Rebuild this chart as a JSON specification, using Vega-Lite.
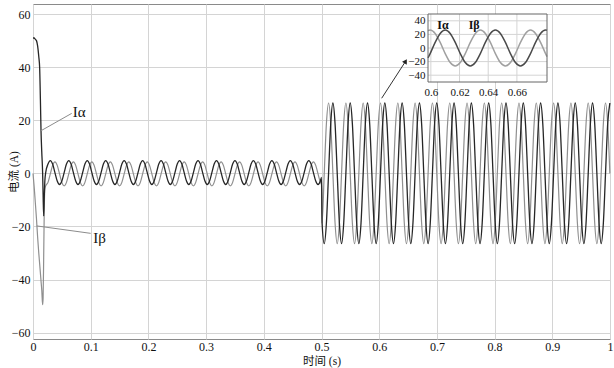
{
  "$schema": "https://vega.github.io/schema/vega-lite/v6.json",
  "width": 577,
  "height": 335,
  "autosize": "none",
  "padding": {"left": 33, "top": 4, "right": 4, "bottom": 29},
  "background": "white",
  "config": {
    "view": {"stroke": "#8a8a8a", "strokeWidth": 1},
    "axis": {
      "domain": false,
      "ticks": false,
      "labelFont": "Liberation Serif",
      "labelFontSize": 12,
      "labelColor": "#111111",
      "titleFont": "Liberation Serif, Noto Sans CJK SC",
      "titleFontSize": 11.5,
      "titleFontWeight": "normal",
      "titleColor": "#111111",
      "gridColor": "#d4d4d4",
      "gridWidth": 1,
      "labelOverlap": false
    }
  },
  "datasets": {
    "main": [
      {"t":0,"a":51,"b":0},{"t":0.002,"a":51,"b":-5},{"t":0.004,"a":50.5,"b":-11},{"t":0.006,"a":50,"b":-17},
      {"t":0.008,"a":48,"b":-24},{"t":0.01,"a":44,"b":-30},{"t":0.0115,"a":40,"b":-34},{"t":0.0128,"a":28,"b":-37.5},
      {"t":0.0139,"a":16,"b":-40.5},{"t":0.0152,"a":8,"b":-44},{"t":0.0167,"a":0,"b":-49.5},{"t":0.0175,"a":-8,"b":-47},
      {"t":0.0185,"a":-16,"b":-32},{"t":0.0195,"a":-9,"b":-14},{"t":0.0205,"a":-3,"b":-6},
      {"t":0.022,"a":0.3,"b":-4.7},{"t":0.026,"a":3.5,"b":-3.4},{"t":0.030,"a":4.8,"b":-0.2},{"t":0.034,"a":3.5,"b":3},{"t":0.038,"a":0.3,"b":4.3},{"t":0.042,"a":-2.9,"b":3},{"t":0.046,"a":-4.2,"b":-0.2},{"t":0.050,"a":-2.9,"b":-3.4},
      {"t":0.054,"a":0.3,"b":-4.7},{"t":0.058,"a":3.5,"b":-3.4},{"t":0.062,"a":4.8,"b":-0.2},{"t":0.066,"a":3.5,"b":3},{"t":0.070,"a":0.3,"b":4.3},{"t":0.074,"a":-2.9,"b":3},{"t":0.078,"a":-4.2,"b":-0.2},{"t":0.082,"a":-2.9,"b":-3.4},
      {"t":0.086,"a":0.3,"b":-4.7},{"t":0.090,"a":3.5,"b":-3.4},{"t":0.094,"a":4.8,"b":-0.2},{"t":0.098,"a":3.5,"b":3},{"t":0.102,"a":0.3,"b":4.3},{"t":0.106,"a":-2.9,"b":3},{"t":0.110,"a":-4.2,"b":-0.2},{"t":0.114,"a":-2.9,"b":-3.4},
      {"t":0.118,"a":0.3,"b":-4.7},{"t":0.122,"a":3.5,"b":-3.4},{"t":0.126,"a":4.8,"b":-0.2},{"t":0.130,"a":3.5,"b":3},{"t":0.134,"a":0.3,"b":4.3},{"t":0.138,"a":-2.9,"b":3},{"t":0.142,"a":-4.2,"b":-0.2},{"t":0.146,"a":-2.9,"b":-3.4},
      {"t":0.150,"a":0.3,"b":-4.7},{"t":0.154,"a":3.5,"b":-3.4},{"t":0.158,"a":4.8,"b":-0.2},{"t":0.162,"a":3.5,"b":3},{"t":0.166,"a":0.3,"b":4.3},{"t":0.170,"a":-2.9,"b":3},{"t":0.174,"a":-4.2,"b":-0.2},{"t":0.178,"a":-2.9,"b":-3.4},
      {"t":0.182,"a":0.3,"b":-4.7},{"t":0.186,"a":3.5,"b":-3.4},{"t":0.190,"a":4.8,"b":-0.2},{"t":0.194,"a":3.5,"b":3},{"t":0.198,"a":0.3,"b":4.3},{"t":0.202,"a":-2.9,"b":3},{"t":0.206,"a":-4.2,"b":-0.2},{"t":0.210,"a":-2.9,"b":-3.4},
      {"t":0.214,"a":0.3,"b":-4.7},{"t":0.218,"a":3.5,"b":-3.4},{"t":0.222,"a":4.8,"b":-0.2},{"t":0.226,"a":3.5,"b":3},{"t":0.230,"a":0.3,"b":4.3},{"t":0.234,"a":-2.9,"b":3},{"t":0.238,"a":-4.2,"b":-0.2},{"t":0.242,"a":-2.9,"b":-3.4},
      {"t":0.246,"a":0.3,"b":-4.7},{"t":0.250,"a":3.5,"b":-3.4},{"t":0.254,"a":4.8,"b":-0.2},{"t":0.258,"a":3.5,"b":3},{"t":0.262,"a":0.3,"b":4.3},{"t":0.266,"a":-2.9,"b":3},{"t":0.270,"a":-4.2,"b":-0.2},{"t":0.274,"a":-2.9,"b":-3.4},
      {"t":0.278,"a":0.3,"b":-4.7},{"t":0.282,"a":3.5,"b":-3.4},{"t":0.286,"a":4.8,"b":-0.2},{"t":0.290,"a":3.5,"b":3},{"t":0.294,"a":0.3,"b":4.3},{"t":0.298,"a":-2.9,"b":3},{"t":0.302,"a":-4.2,"b":-0.2},{"t":0.306,"a":-2.9,"b":-3.4},
      {"t":0.310,"a":0.3,"b":-4.7},{"t":0.314,"a":3.5,"b":-3.4},{"t":0.318,"a":4.8,"b":-0.2},{"t":0.322,"a":3.5,"b":3},{"t":0.326,"a":0.3,"b":4.3},{"t":0.330,"a":-2.9,"b":3},{"t":0.334,"a":-4.2,"b":-0.2},{"t":0.338,"a":-2.9,"b":-3.4},
      {"t":0.342,"a":0.3,"b":-4.7},{"t":0.346,"a":3.5,"b":-3.4},{"t":0.350,"a":4.8,"b":-0.2},{"t":0.354,"a":3.5,"b":3},{"t":0.358,"a":0.3,"b":4.3},{"t":0.362,"a":-2.9,"b":3},{"t":0.366,"a":-4.2,"b":-0.2},{"t":0.370,"a":-2.9,"b":-3.4},
      {"t":0.374,"a":0.3,"b":-4.7},{"t":0.378,"a":3.5,"b":-3.4},{"t":0.382,"a":4.8,"b":-0.2},{"t":0.386,"a":3.5,"b":3},{"t":0.390,"a":0.3,"b":4.3},{"t":0.394,"a":-2.9,"b":3},{"t":0.398,"a":-4.2,"b":-0.2},{"t":0.402,"a":-2.9,"b":-3.4},
      {"t":0.406,"a":0.3,"b":-4.7},{"t":0.410,"a":3.5,"b":-3.4},{"t":0.414,"a":4.8,"b":-0.2},{"t":0.418,"a":3.5,"b":3},{"t":0.422,"a":0.3,"b":4.3},{"t":0.426,"a":-2.9,"b":3},{"t":0.430,"a":-4.2,"b":-0.2},{"t":0.434,"a":-2.9,"b":-3.4},
      {"t":0.438,"a":0.3,"b":-4.7},{"t":0.442,"a":3.5,"b":-3.4},{"t":0.446,"a":4.8,"b":-0.2},{"t":0.450,"a":3.5,"b":3},{"t":0.454,"a":0.3,"b":4.3},{"t":0.458,"a":-2.9,"b":3},{"t":0.462,"a":-4.2,"b":-0.2},{"t":0.466,"a":-2.9,"b":-3.4},
      {"t":0.470,"a":0.3,"b":-4.7},{"t":0.474,"a":3.5,"b":-3.4},{"t":0.478,"a":4.8,"b":-0.2},{"t":0.482,"a":3.5,"b":3},{"t":0.486,"a":0.3,"b":4.3},{"t":0.490,"a":-2.9,"b":3},{"t":0.494,"a":-4.2,"b":-0.2},{"t":0.498,"a":-2.9,"b":-3.4},
      {"t":0.5,"a":-1.5,"b":-4.3},
      {"t":0.501,"a":-18.7,"b":-18.7},{"t":0.50475,"a":-26.5,"b":0},{"t":0.5085,"a":-18.7,"b":18.7},{"t":0.51225,"a":0,"b":26.5},{"t":0.516,"a":18.7,"b":18.7},{"t":0.51975,"a":26.5,"b":0},{"t":0.5235,"a":18.7,"b":-18.7},{"t":0.52725,"a":0,"b":-26.5},
      {"t":0.531,"a":-18.7,"b":-18.7},{"t":0.53475,"a":-26.5,"b":0},{"t":0.5385,"a":-18.7,"b":18.7},{"t":0.54225,"a":0,"b":26.5},{"t":0.546,"a":18.7,"b":18.7},{"t":0.54975,"a":26.5,"b":0},{"t":0.5535,"a":18.7,"b":-18.7},{"t":0.55725,"a":0,"b":-26.5},
      {"t":0.561,"a":-18.7,"b":-18.7},{"t":0.56475,"a":-26.5,"b":0},{"t":0.5685,"a":-18.7,"b":18.7},{"t":0.57225,"a":0,"b":26.5},{"t":0.576,"a":18.7,"b":18.7},{"t":0.57975,"a":26.5,"b":0},{"t":0.5835,"a":18.7,"b":-18.7},{"t":0.58725,"a":0,"b":-26.5},
      {"t":0.591,"a":-18.7,"b":-18.7},{"t":0.59475,"a":-26.5,"b":0},{"t":0.5985,"a":-18.7,"b":18.7},{"t":0.60225,"a":0,"b":26.5},{"t":0.606,"a":18.7,"b":18.7},{"t":0.60975,"a":26.5,"b":0},{"t":0.6135,"a":18.7,"b":-18.7},{"t":0.61725,"a":0,"b":-26.5},
      {"t":0.621,"a":-18.7,"b":-18.7},{"t":0.62475,"a":-26.5,"b":0},{"t":0.6285,"a":-18.7,"b":18.7},{"t":0.63225,"a":0,"b":26.5},{"t":0.636,"a":18.7,"b":18.7},{"t":0.63975,"a":26.5,"b":0},{"t":0.6435,"a":18.7,"b":-18.7},{"t":0.64725,"a":0,"b":-26.5},
      {"t":0.651,"a":-18.7,"b":-18.7},{"t":0.65475,"a":-26.5,"b":0},{"t":0.6585,"a":-18.7,"b":18.7},{"t":0.66225,"a":0,"b":26.5},{"t":0.666,"a":18.7,"b":18.7},{"t":0.66975,"a":26.5,"b":0},{"t":0.6735,"a":18.7,"b":-18.7},{"t":0.67725,"a":0,"b":-26.5},
      {"t":0.681,"a":-18.7,"b":-18.7},{"t":0.68475,"a":-26.5,"b":0},{"t":0.6885,"a":-18.7,"b":18.7},{"t":0.69225,"a":0,"b":26.5},{"t":0.696,"a":18.7,"b":18.7},{"t":0.69975,"a":26.5,"b":0},{"t":0.7035,"a":18.7,"b":-18.7},{"t":0.70725,"a":0,"b":-26.5},
      {"t":0.711,"a":-18.7,"b":-18.7},{"t":0.71475,"a":-26.5,"b":0},{"t":0.7185,"a":-18.7,"b":18.7},{"t":0.72225,"a":0,"b":26.5},{"t":0.726,"a":18.7,"b":18.7},{"t":0.72975,"a":26.5,"b":0},{"t":0.7335,"a":18.7,"b":-18.7},{"t":0.73725,"a":0,"b":-26.5},
      {"t":0.741,"a":-18.7,"b":-18.7},{"t":0.74475,"a":-26.5,"b":0},{"t":0.7485,"a":-18.7,"b":18.7},{"t":0.75225,"a":0,"b":26.5},{"t":0.756,"a":18.7,"b":18.7},{"t":0.75975,"a":26.5,"b":0},{"t":0.7635,"a":18.7,"b":-18.7},{"t":0.76725,"a":0,"b":-26.5},
      {"t":0.771,"a":-18.7,"b":-18.7},{"t":0.77475,"a":-26.5,"b":0},{"t":0.7785,"a":-18.7,"b":18.7},{"t":0.78225,"a":0,"b":26.5},{"t":0.786,"a":18.7,"b":18.7},{"t":0.78975,"a":26.5,"b":0},{"t":0.7935,"a":18.7,"b":-18.7},{"t":0.79725,"a":0,"b":-26.5},
      {"t":0.801,"a":-18.7,"b":-18.7},{"t":0.80475,"a":-26.5,"b":0},{"t":0.8085,"a":-18.7,"b":18.7},{"t":0.81225,"a":0,"b":26.5},{"t":0.816,"a":18.7,"b":18.7},{"t":0.81975,"a":26.5,"b":0},{"t":0.8235,"a":18.7,"b":-18.7},{"t":0.82725,"a":0,"b":-26.5},
      {"t":0.831,"a":-18.7,"b":-18.7},{"t":0.83475,"a":-26.5,"b":0},{"t":0.8385,"a":-18.7,"b":18.7},{"t":0.84225,"a":0,"b":26.5},{"t":0.846,"a":18.7,"b":18.7},{"t":0.84975,"a":26.5,"b":0},{"t":0.8535,"a":18.7,"b":-18.7},{"t":0.85725,"a":0,"b":-26.5},
      {"t":0.861,"a":-18.7,"b":-18.7},{"t":0.86475,"a":-26.5,"b":0},{"t":0.8685,"a":-18.7,"b":18.7},{"t":0.87225,"a":0,"b":26.5},{"t":0.876,"a":18.7,"b":18.7},{"t":0.87975,"a":26.5,"b":0},{"t":0.8835,"a":18.7,"b":-18.7},{"t":0.88725,"a":0,"b":-26.5},
      {"t":0.891,"a":-18.7,"b":-18.7},{"t":0.89475,"a":-26.5,"b":0},{"t":0.8985,"a":-18.7,"b":18.7},{"t":0.90225,"a":0,"b":26.5},{"t":0.906,"a":18.7,"b":18.7},{"t":0.90975,"a":26.5,"b":0},{"t":0.9135,"a":18.7,"b":-18.7},{"t":0.91725,"a":0,"b":-26.5},
      {"t":0.921,"a":-18.7,"b":-18.7},{"t":0.92475,"a":-26.5,"b":0},{"t":0.9285,"a":-18.7,"b":18.7},{"t":0.93225,"a":0,"b":26.5},{"t":0.936,"a":18.7,"b":18.7},{"t":0.93975,"a":26.5,"b":0},{"t":0.9435,"a":18.7,"b":-18.7},{"t":0.94725,"a":0,"b":-26.5},
      {"t":0.951,"a":-18.7,"b":-18.7},{"t":0.95475,"a":-26.5,"b":0},{"t":0.9585,"a":-18.7,"b":18.7},{"t":0.96225,"a":0,"b":26.5},{"t":0.966,"a":18.7,"b":18.7},{"t":0.96975,"a":26.5,"b":0},{"t":0.9735,"a":18.7,"b":-18.7},{"t":0.97725,"a":0,"b":-26.5},
      {"t":0.981,"a":-18.7,"b":-18.7},{"t":0.98475,"a":-26.5,"b":0},{"t":0.9885,"a":-18.7,"b":18.7},{"t":0.99225,"a":0,"b":26.5},{"t":0.996,"a":18.7,"b":18.7},{"t":0.99975,"a":26.5,"b":0}
    ],
    "inset": [
      {"t":0.598,"a":-14.6,"b":25.5},{"t":0.5995,"a":-8.19,"b":26.5},{"t":0.603,"a":8.19,"b":21.44},{"t":0.6065,"a":21.44,"b":8.19},
      {"t":0.61,"a":26.5,"b":-8.19},{"t":0.6135,"a":21.44,"b":-21.44},{"t":0.617,"a":8.19,"b":-26.5},{"t":0.6205,"a":-8.19,"b":-21.44},
      {"t":0.624,"a":-21.44,"b":-8.19},{"t":0.6275,"a":-26.5,"b":8.19},{"t":0.631,"a":-21.44,"b":21.44},{"t":0.6345,"a":-8.19,"b":26.5},
      {"t":0.638,"a":8.19,"b":21.44},{"t":0.6415,"a":21.44,"b":8.19},{"t":0.645,"a":26.5,"b":-8.19},{"t":0.6485,"a":21.44,"b":-21.44},
      {"t":0.652,"a":8.19,"b":-26.5},{"t":0.6555,"a":-8.19,"b":-21.44},{"t":0.659,"a":-21.44,"b":-8.19},{"t":0.6625,"a":-26.5,"b":8.19},
      {"t":0.666,"a":-21.44,"b":21.44},{"t":0.6695,"a":-8.19,"b":26.5},{"t":0.673,"a":8.19,"b":21.44},{"t":0.6765,"a":21.44,"b":8.19},
      {"t":0.68,"a":26.5,"b":-8.19},{"t":0.681,"a":26.1,"b":-12.6}
    ],
    "leaders": [
      {"t":0.0134,"v":16,"t2":0.0671,"v2":22.6},
      {"t":0.0064,"v":-19.8,"t2":0.1,"v2":-22.6}
    ],
    "labels": [
      {"t":0.069,"v":23,"s":"Iα"},
      {"t":0.1045,"v":-24.4,"s":"Iβ"}
    ],
    "arrow": [
      {"t":0.6043,"v":28.3,"t2":0.6451,"v2":42}
    ],
    "insetFrame": [
      {"x1":0.598,"x2":0.681,"y1":-50,"y2":50}
    ],
    "insetVGrid": [{"t":0.6},{"t":0.62},{"t":0.64},{"t":0.66}],
    "insetHGrid": [{"v":-40},{"v":-20},{"v":0},{"v":20},{"v":40}],
    "insetLabels": [
      {"t":0.6085,"v":33.8,"s":"Iα"},
      {"t":0.6302,"v":33.8,"s":"Iβ"}
    ]
  },
  "layer": [
    {
      "layer": [
        {
          "data": {"name": "main"},
          "mark": {"type": "line", "color": "#8f8f8f", "strokeWidth": 1.2, "interpolate": "monotone"},
          "encoding": {
            "x": {"field": "t", "type": "quantitative", "title": "时间 (s)",
              "scale": {"domain": [0, 1], "nice": false, "zero": false},
              "axis": {"values": [0, 0.1, 0.2, 0.3, 0.4, 0.5, 0.6, 0.7, 0.8, 0.9, 1], "format": "~g", "grid": true, "labelFlush": false, "labelPadding": 2, "titlePadding": 3}},
            "y": {"field": "b", "type": "quantitative", "title": "电流 (A)",
              "scale": {"domain": [-62.4, 63.8], "nice": false, "zero": false},
              "axis": {"values": [-60, -40, -20, 0, 20, 40, 60], "grid": true, "labelPadding": 3, "titlePadding": -8}}
          }
        },
        {
          "data": {"name": "main"},
          "mark": {"type": "line", "color": "#262626", "strokeWidth": 1.3, "interpolate": "monotone"},
          "encoding": {
            "x": {"field": "t", "type": "quantitative", "title": "时间 (s)"},
            "y": {"field": "a", "type": "quantitative", "title": "电流 (A)"}
          }
        },
        {
          "data": {"name": "leaders"},
          "mark": {"type": "rule", "color": "#8c8c8c", "strokeWidth": 1},
          "encoding": {
            "x": {"field": "t", "type": "quantitative", "title": "时间 (s)"},
            "y": {"field": "v", "type": "quantitative", "title": "电流 (A)"},
            "x2": {"field": "t2"},
            "y2": {"field": "v2"}
          }
        },
        {
          "data": {"name": "labels"},
          "mark": {"type": "text", "font": "Liberation Serif", "fontSize": 15, "align": "left", "baseline": "middle", "color": "#111111"},
          "encoding": {
            "x": {"field": "t", "type": "quantitative", "title": "时间 (s)"},
            "y": {"field": "v", "type": "quantitative", "title": "电流 (A)"},
            "text": {"field": "s"}
          }
        },
        {
          "data": {"name": "arrow"},
          "mark": {"type": "rule", "color": "#333333", "strokeWidth": 1},
          "encoding": {
            "x": {"field": "t", "type": "quantitative", "title": "时间 (s)"},
            "y": {"field": "v", "type": "quantitative", "title": "电流 (A)"},
            "x2": {"field": "t2"},
            "y2": {"field": "v2"}
          }
        },
        {
          "data": {"name": "arrow"},
          "mark": {"type": "point", "shape": "triangle", "angle": 31, "size": 30, "filled": true, "color": "#222222", "opacity": 1},
          "encoding": {
            "x": {"field": "t2", "type": "quantitative", "title": "时间 (s)"},
            "y": {"field": "v2", "type": "quantitative", "title": "电流 (A)"}
          }
        }
      ]
    },
    {
      "layer": [
        {
          "data": {"name": "insetFrame"},
          "mark": {"type": "rect", "fill": "white", "stroke": null},
          "encoding": {
            "x": {"field": "x1", "type": "quantitative", "title": null,
              "scale": {"domain": [0.598, 0.681], "range": [395, 514], "nice": false, "zero": false},
              "axis": {"orient": "bottom", "offset": -257, "values": [0.6, 0.62, 0.64, 0.66], "format": ".2~f", "grid": false, "labelFlush": false, "labelFontSize": 11, "labelPadding": 4}},
            "x2": {"field": "x2"},
            "y": {"field": "y1", "type": "quantitative", "title": null,
              "scale": {"domain": [-50, 50], "range": [78, 10], "nice": false, "zero": false},
              "axis": {"orient": "left", "offset": -395, "values": [-40, -20, 0, 20, 40], "grid": false, "labelFontSize": 11, "labelPadding": 3}},
            "y2": {"field": "y2"}
          }
        },
        {
          "data": {"name": "insetVGrid"},
          "mark": {"type": "rule", "color": "#d4d4d4", "strokeWidth": 1},
          "encoding": {
            "x": {"field": "t", "type": "quantitative", "title": null},
            "y": {"datum": -50, "type": "quantitative", "title": null},
            "y2": {"datum": 50}
          }
        },
        {
          "data": {"name": "insetHGrid"},
          "mark": {"type": "rule", "color": "#d4d4d4", "strokeWidth": 1},
          "encoding": {
            "y": {"field": "v", "type": "quantitative", "title": null},
            "x": {"datum": 0.598, "type": "quantitative", "title": null},
            "x2": {"datum": 0.681}
          }
        },
        {
          "data": {"name": "inset"},
          "mark": {"type": "line", "color": "#a0a0a0", "strokeWidth": 1.5, "interpolate": "monotone"},
          "encoding": {
            "x": {"field": "t", "type": "quantitative", "title": null},
            "y": {"field": "b", "type": "quantitative", "title": null}
          }
        },
        {
          "data": {"name": "inset"},
          "mark": {"type": "line", "color": "#4a4a4a", "strokeWidth": 1.5, "interpolate": "monotone"},
          "encoding": {
            "x": {"field": "t", "type": "quantitative", "title": null},
            "y": {"field": "a", "type": "quantitative", "title": null}
          }
        },
        {
          "data": {"name": "insetLabels"},
          "mark": {"type": "text", "font": "Liberation Serif", "fontSize": 12, "fontWeight": "bold", "align": "center", "baseline": "middle", "color": "#111111"},
          "encoding": {
            "x": {"field": "t", "type": "quantitative", "title": null},
            "y": {"field": "v", "type": "quantitative", "title": null},
            "text": {"field": "s"}
          }
        },
        {
          "data": {"name": "insetFrame"},
          "mark": {"type": "rect", "fill": null, "fillOpacity": 0, "stroke": "#666666", "strokeWidth": 1},
          "encoding": {
            "x": {"field": "x1", "type": "quantitative", "title": null},
            "x2": {"field": "x2"},
            "y": {"field": "y1", "type": "quantitative", "title": null},
            "y2": {"field": "y2"}
          }
        }
      ]
    }
  ],
  "resolve": {"scale": {"x": "independent", "y": "independent"}}
}
